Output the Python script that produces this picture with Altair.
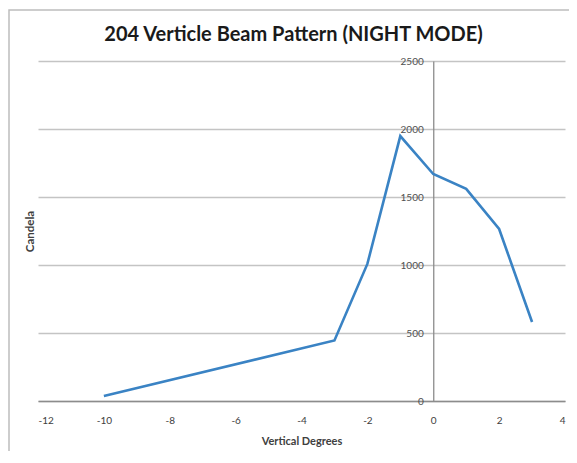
import altair as alt
import pandas as pd

degrees = [-10, -3, -2, -1, 0, 1, 2, 3]
candela = [37, 445, 1008, 1948, 1669, 1560, 1265, 581]
x_ticks = [-12, -10, -8, -6, -4, -2, 0, 2, 4]
y_ticks = [0, 500, 1000, 1500, 2000, 2500]
title_text = ["204 Verticle Beam Pattern (NIGHT MODE)"]

df = pd.DataFrame({"deg": degrees, "cd": candela})

W, H = 527, 340
x_min, x_max = -12, 4
y_axis_offset = -(0 - x_min) * W / (x_max - x_min)

FONT = "Lato"

frame = alt.Chart(pd.DataFrame({"a": [0]})).mark_rect(
    fill=None, stroke="#bdbdbd", strokeWidth=1.5
).encode(
    x=alt.value(-29), x2=alt.value(W + 60),
    y=alt.value(-51), y2=alt.value(H + 100)
)

title = alt.Chart(pd.DataFrame({"t": title_text})).mark_text(
    font=FONT, fontSize=20, fontWeight="bold", color="#1a1a1a",
    align="center", baseline="middle"
).encode(text="t:N", x=alt.value(W / 2 - 8), y=alt.value(-26))

line = alt.Chart(df).mark_line(color="#3A83C4", strokeWidth=2.6).encode(
    x=alt.X("deg:Q",
            scale=alt.Scale(domain=[x_min, x_max], nice=False, zero=False),
            axis=alt.Axis(values=x_ticks, grid=False, ticks=False,
                          labelExpr="'' + datum.value",
                          domain=True, domainColor="#8c8c8c", domainWidth=1.3,
                          labelPadding=14, labelFontSize=10, labelColor="#404040",
                          labelFont=FONT, title="Vertical Degrees",
                          titleFont=FONT, titleFontSize=11, titleFontWeight="bold",
                          titleColor="#404040", titlePadding=10)),
    y=alt.Y("cd:Q",
            scale=alt.Scale(domain=[0, 2500], nice=False),
            axis=alt.Axis(values=y_ticks, grid=True, gridColor="#c4c4c4",
                          labelExpr="'' + datum.value",
                          gridWidth=1.4, ticks=False, domain=True,
                          domainColor="#8c8c8c", domainWidth=1.3,
                          offset=y_axis_offset, labelPadding=10,
                          labelFontSize=10, labelColor="#505050", labelFont=FONT,
                          title="Candela", titleFont=FONT, titleFontSize=11.5,
                          titleFontWeight="bold", titleColor="#404040",
                          titleX=y_axis_offset - 8, titleY=H / 2,
                          titleAngle=270, titleAlign="center",
                          titleBaseline="middle")),
)

chart = alt.layer(frame, title, line).properties(
    width=W, height=H,
    autosize=alt.AutoSizeParams(type="none"),
    padding={"left": 30, "top": 53, "right": 4, "bottom": 50},
).configure_view(stroke=None)

chart.save("out.html", embed_options={"renderer": "svg", "actions": False})
